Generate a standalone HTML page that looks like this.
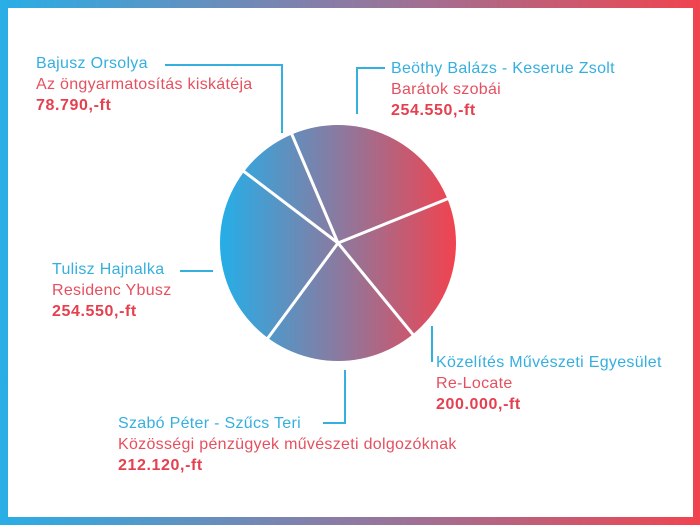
<!DOCTYPE html>
<html><head><meta charset="utf-8"><style>
body{margin:0;width:700px;height:525px;overflow:hidden;background:#fff;font-family:"Liberation Sans",sans-serif;}
.frame{position:absolute;left:0;top:0;width:700px;height:525px;background:linear-gradient(90deg,#29aee6,#8d7aa3 50%,#f0444f);}
.inner{position:absolute;left:8px;top:8px;width:685px;height:509px;background:#fff;}
.lbl{position:absolute;font-size:16px;line-height:21px;white-space:nowrap;letter-spacing:0.3px;}
.b{color:#35afdf}.r{color:#e5505f}.v{color:#e5404f;font-weight:bold;letter-spacing:0.6px}
svg{position:absolute;left:0;top:0}
</style></head><body>
<div class="frame"></div><div class="inner"></div>
<svg width="700" height="525">
<defs><linearGradient id="g" x1="220" y1="0" x2="456" y2="0" gradientUnits="userSpaceOnUse">
<stop offset="0" stop-color="#25aee8"/><stop offset="0.5" stop-color="#8a7aa0"/><stop offset="1" stop-color="#f1434f"/></linearGradient></defs>
<circle cx="338" cy="243" r="118" fill="url(#g)"/>
<g stroke="#fff" stroke-width="3">
<line x1="338" y1="243" x2="290" y2="130"/>
<line x1="338" y1="243" x2="242" y2="170"/>
<line x1="338" y1="243" x2="452" y2="197"/>
<line x1="338" y1="243" x2="415" y2="337"/>
<line x1="338" y1="243" x2="265" y2="342"/>
</g>
<g stroke="#35afdf" stroke-width="2" fill="none">
<polyline points="165,65 282,65 282,133"/>
<polyline points="385,68 357,68 357,114"/>
<line x1="180" y1="271" x2="213" y2="271"/>
<polyline points="432,326 432,362"/>
<polyline points="323,423 345,423 345,370"/>
</g>
</svg>
<div class="lbl" style="left:36px;top:53px"><div class="b">Bajusz Orsolya</div><div class="r">Az öngyarmatosítás kiskátéja</div><div class="v">78.790,-ft</div></div>
<div class="lbl" style="left:391px;top:58px"><div class="b">Beöthy Balázs - Keserue Zsolt</div><div class="r">Barátok szobái</div><div class="v">254.550,-ft</div></div>
<div class="lbl" style="left:52px;top:259px"><div class="b">Tulisz Hajnalka</div><div class="r">Residenc Ybusz</div><div class="v">254.550,-ft</div></div>
<div class="lbl" style="left:436px;top:352px"><div class="b">Közelítés Művészeti Egyesület</div><div class="r">Re-Locate</div><div class="v">200.000,-ft</div></div>
<div class="lbl" style="left:118px;top:413px"><div class="b">Szabó Péter - Szűcs Teri</div><div class="r">Közösségi pénzügyek művészeti dolgozóknak</div><div class="v">212.120,-ft</div></div>
</body></html>
